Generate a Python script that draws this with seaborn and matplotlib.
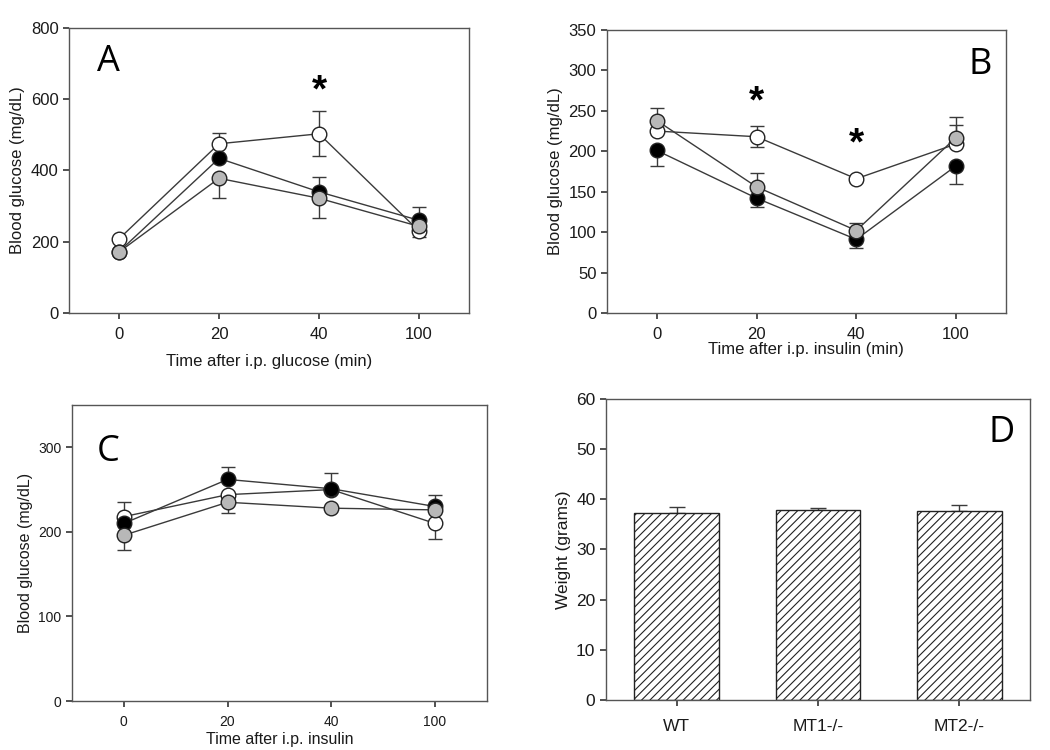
import numpy as np
import pandas as pd
import seaborn as sns
import matplotlib.pyplot as plt

sns.set_theme(style="ticks")
plt.rcParams['font.family'] = ['Liberation Sans', 'DejaVu Sans']
plt.rcParams['hatch.linewidth'] = 0.8
plt.rcParams['text.color'] = '#1a1a1a'
plt.rcParams['axes.labelcolor'] = '#1a1a1a'
plt.rcParams['xtick.labelcolor'] = '#1a1a1a'
plt.rcParams['ytick.labelcolor'] = '#1a1a1a'

times = ['0', '20', '40', '100']
groups = ['WT', 'MT1-/-', 'MT2-/-']

# panel A: glucose tolerance (open, black, gray series)
a_open = [208, 475, 503, 230]
a_open_up = [0, 30, 64, 0]
a_open_dn = [0, 0, 61, 18]
a_black = [172, 434, 340, 260]
a_black_up = [0, 0, 41, 37]
a_black_dn = [0, 0, 0, 0]
a_gray = [171, 378, 322, 243]
a_gray_up = [0, 0, 0, 0]
a_gray_dn = [0, 55, 55, 0]

# panel B: insulin tolerance
b_open = [225, 218, 166, 209]
b_open_up = [0, 13, 0, 24]
b_open_dn = [0, 13, 4, 0]
b_black = [201, 142, 91, 182]
b_black_up = [0, 0, 0, 0]
b_black_dn = [19, 11, 11, 22]
b_gray = [238, 156, 102, 217]
b_gray_up = [15, 17, 9, 26]
b_gray_dn = [0, 0, 0, 0]

# panel C: insulin (second set)
c_open = [218, 244, 250, 210]
c_open_up = [17, 0, 0, 0]
c_open_dn = [0, 0, 0, 18]
c_black = [210, 262, 251, 230]
c_black_up = [0, 15, 19, 13]
c_black_dn = [0, 0, 0, 0]
c_gray = [196, 235, 228, 226]
c_gray_up = [0, 0, 0, 0]
c_gray_dn = [17, 13, 0, 0]

# panel D: body weight
weight = [37.3, 37.8, 37.7]
weight_err = [1.2, 0.5, 1.2]

line_col = '#3a3a3a'
fills = {'open': 'white', 'black': 'black', 'gray': '#b8b8b8'}


def tolerance_panel(ax, series, ylim, yticks, xlabel, tick_fs=12, lab_fs=12):
    for name, vals, up, dn in series:
        df = pd.DataFrame({'pos': np.arange(len(times)), 'glucose': vals})
        ax.errorbar(df['pos'], df['glucose'], yerr=[dn, up], fmt='none',
                    ecolor=line_col, elinewidth=1, capsize=5, capthick=1, zorder=2)
        sns.lineplot(data=df, x='pos', y='glucose', ax=ax, color=line_col, lw=1,
                     marker='o', markersize=10.5, markerfacecolor=fills[name],
                     markeredgecolor='#222222', markeredgewidth=1, zorder=3)
    ax.set_xlim(-0.5, 3.5)
    ax.set_ylim(*ylim)
    ax.set_yticks(yticks)
    ax.set_xticks(range(len(times)))
    ax.set_xticklabels(times)
    ax.tick_params(labelsize=tick_fs, direction='out', length=4, color=line_col)
    ax.tick_params(axis='x', pad=6)
    ax.set_xlabel(xlabel, fontsize=lab_fs)
    ax.set_ylabel('Blood glucose (mg/dL)', fontsize=lab_fs)
    for s in ax.spines.values():
        s.set_visible(True)
        s.set_color('#555555')
        s.set_linewidth(1)


fig = plt.figure(figsize=(10.5, 7.5), dpi=100)
axA = fig.add_axes([0.0657, 0.5827, 0.381, 0.38])
axB = fig.add_axes([0.578, 0.5827, 0.380, 0.3773])
axC = fig.add_axes([0.0686, 0.0653, 0.395, 0.3947])
axD = fig.add_axes([0.577, 0.0667, 0.404, 0.4013])

tolerance_panel(axA, [('open', a_open, a_open_up, a_open_dn),
                      ('black', a_black, a_black_up, a_black_dn),
                      ('gray', a_gray, a_gray_up, a_gray_dn)],
                (0, 800), [0, 200, 400, 600, 800], 'Time after i.p. glucose (min)')
tolerance_panel(axB, [('open', b_open, b_open_up, b_open_dn),
                      ('black', b_black, b_black_up, b_black_dn),
                      ('gray', b_gray, b_gray_up, b_gray_dn)],
                (0, 350), list(range(0, 351, 50)), 'Time after i.p. insulin (min)')
tolerance_panel(axC, [('open', c_open, c_open_up, c_open_dn),
                      ('black', c_black, c_black_up, c_black_dn),
                      ('gray', c_gray, c_gray_up, c_gray_dn)],
                (0, 350), [0, 100, 200, 300], 'Time after i.p. insulin',
                tick_fs=10, lab_fs=11.5)
axA.xaxis.labelpad = 9
axB.xaxis.labelpad = 0
axC.xaxis.labelpad = 2

# significance marks
star = dict(ha='center', va='center', fontsize=28, fontweight='bold', color='black')
axA.text(2, 622, '*', **star)
axB.text(1, 260, '*', **star)
axB.text(2, 209, '*', **star)

# panel D bars
wdf = pd.DataFrame({'group': groups, 'weight': weight})
sns.barplot(data=wdf, x='group', y='weight', ax=axD, color='white', width=0.6,
            edgecolor='#222222', linewidth=1, hatch='////', errorbar=None, zorder=2)
axD.errorbar(range(len(groups)), weight, yerr=[[0] * 3, weight_err], fmt='none',
             ecolor=line_col, elinewidth=1, capsize=6, capthick=1, zorder=1)
axD.set_ylim(0, 60)
axD.set_xlim(-0.5, 2.5)
axD.set_yticks(range(0, 61, 10))
axD.set_xlabel('')
axD.set_ylabel('Weight (grams)', fontsize=12.5)
axD.tick_params(labelsize=12.5, direction='out', length=4, color=line_col)
axD.tick_params(axis='x', pad=10)
for s in axD.spines.values():
    s.set_visible(True)
    s.set_color('#555555')
    s.set_linewidth(1)

# panel letters
letter = dict(fontsize=26, family=['Open Sans', 'DejaVu Sans'], va='center', color='black')
axA.text(0.07, 0.88, 'A', transform=axA.transAxes, **letter)
axB.text(0.935, 0.876, 'B', transform=axB.transAxes, ha='center', **letter)
axC.text(0.06, 0.84, 'C', transform=axC.transAxes, **letter)
axD.text(0.934, 0.887, 'D', transform=axD.transAxes, ha='center', **letter)

fig.savefig('out.png', dpi=100, facecolor='white')
